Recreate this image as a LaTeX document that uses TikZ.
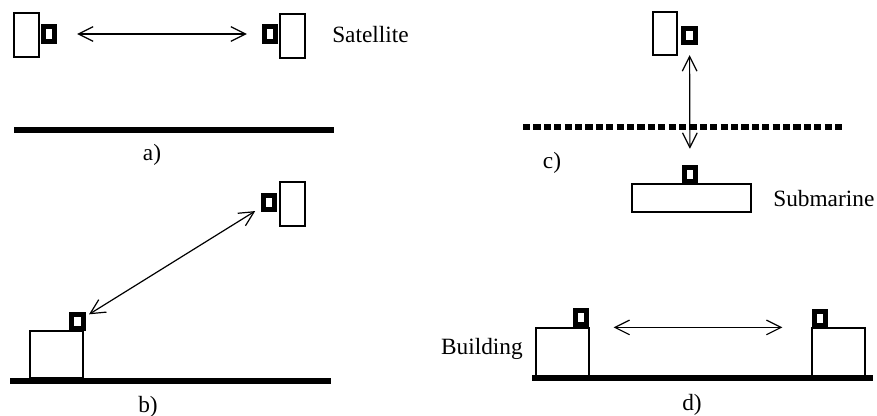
\documentclass[tikz,border=0pt]{standalone}
\usepackage{fontspec}
\setmainfont{Liberation Serif}
\usetikzlibrary{arrows.meta}

\tikzset{
  box/.style={draw, line width=0.9pt, inner sep=0pt},
  antenna/.style={draw, line width=3.6pt, fill=white, inner sep=0pt, minimum width=8.6pt, minimum height=10.9pt},
  link/.style={line width=0.9pt, {Straight Barb[length=11pt,width=11pt]}-{Straight Barb[length=11pt,width=11pt]}},
  ground/.style={line width=4.4pt},
  caption/.style={font=\fontsize{17.5}{20}\selectfont, inner sep=0pt},
}

\begin{document}
\begin{tikzpicture}[x=0.75pt,y=0.75pt,yscale=-1,xscale=1]
\useasboundingbox (0,0) rectangle (877,416);

% a) two satellites
%Shape: Rectangle
\node[box, minimum width=18.75pt, minimum height=33pt] (satA1) at (26.5,35) {};
\node[antenna] (antA1) at (49,34) {};
\node[antenna] (antA2) at (270,34) {};
\node[box, minimum width=18.75pt, minimum height=33pt] (satA2) at (292.5,36) {};
%Straight Lines
\draw[link, shorten <=15pt, shorten >=11.25pt] (antA1) -- (antA2);
\draw[ground] (14,130) -- (334,130);
% Text Node
\node[caption, anchor=west] (txtSat) at (332,35) {Satellite};
\node[caption] (capA) at (152,155) {a)};

% b) satellite to building
\node[box, minimum width=18.75pt, minimum height=33pt] (satB) at (292.5,204) {};
\node[antenna] (antB1) at (269,202.5) {};
\node[box, minimum width=39.75pt, minimum height=35.25pt] (bldB) at (56.5,354.5) {};
\node[antenna] (antB2) at (77.5,321.5) {};
%Straight Lines
\draw[link, shorten <=5pt, shorten >=3pt] (antB1) -- (antB2);
\draw[ground] (10,381) -- (331,381);
% Text Node
\node[caption] (capB) at (148,407) {b)};

% c) satellite to submarine
\node[box, minimum width=18pt, minimum height=32.25pt] (satC) at (665,33.5) {};
\node[antenna] (antC1) at (689.5,35.5) {};
\node[box, minimum width=89.25pt, minimum height=21pt] (sub) at (691.5,198) {};
\node[antenna] (antC2) at (690,174.5) {};
%Straight Lines
\draw[link, shorten <=7.5pt, shorten >=12pt] (antC1) -- (antC2);
\draw[line width=4.4pt, dash pattern=on 5.4pt off 2.4pt] (523,127) -- (842,127);
% Text Node
\node[caption] (capC) at (552,163) {c)};
\node[caption, anchor=west] (txtSub) at (773,199) {Submarine};

% d) building to building
\node[box, minimum width=39.75pt, minimum height=36.75pt] (bldD1) at (562.5,352.5) {};
\node[antenna] (antD1) at (581,317.5) {};
\node[box, minimum width=39.75pt, minimum height=36.75pt] (bldD2) at (838.5,352.5) {};
\node[antenna] (antD2) at (820,318.5) {};
%Straight Lines
\draw[link, shorten <=18pt, shorten >=21.75pt] (bldD1.north east) -- (bldD2.north west);
\draw[line width=3.8pt] (532,378) -- (873,378);
% Text Node
\node[caption, anchor=east] (txtBld) at (523,349) {Building};
\node[caption] (capD) at (692,405) {d)};

\end{tikzpicture}
\end{document}
